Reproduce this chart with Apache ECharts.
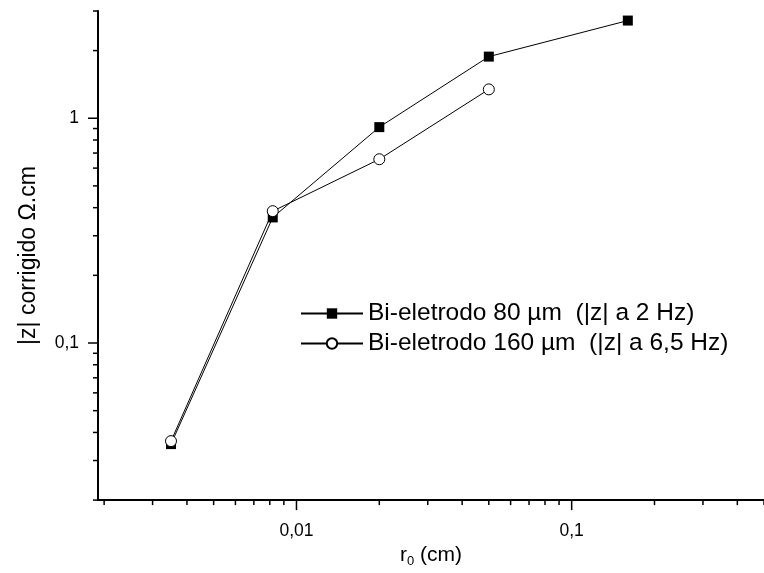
<!DOCTYPE html>
<html>
<head>
<meta charset="utf-8">
<script src="https://cdn.jsdelivr.net/npm/echarts@6/dist/echarts.min.js"></script>
<style>
html,body{margin:0;padding:0;background:#fff;}
#chart{width:764px;height:573px;}
</style>
</head>
<body>
<div id="chart"></div>
<script>
// ---- data ----
const seriesNames = ['Bi-eletrodo 80 \u00b5m  (|z| a 2 Hz)', 'Bi-eletrodo 160 \u00b5m  (|z| a 6,5 Hz)'];
const r0_80 = [0.0035, 0.0082, 0.020, 0.050, 0.160];
const z_80 = [0.0355, 0.362, 0.913, 1.88, 2.72];
const r0_160 = [0.0035, 0.0082, 0.020, 0.050];
const z_160 = [0.0366, 0.386, 0.657, 1.344];
const xMajorTicks = [0.01, 0.1];
const xMinorTicks = [0.002,0.003,0.004,0.005,0.006,0.007,0.008,0.009,
                     0.02,0.03,0.04,0.05,0.06,0.07,0.08,0.09,
                     0.2,0.3,0.4,0.5];
const yMajorTicks = [0.1, 1];
const yMinorTicks = [0.02,0.03,0.04,0.05,0.06,0.07,0.08,0.09,
                     0.2,0.3,0.4,0.5,0.6,0.7,0.8,0.9,2,3];
const X_MIN = 0.0019, X_MAX = 0.5, Y_MIN = 0.02, Y_MAX = 3;

const FONT = "'Liberation Sans', Arial, sans-serif";
const chart = echarts.init(document.getElementById('chart'), null, {renderer: 'canvas'});

function fmt(v) { return String(Number(v.toPrecision(6))).replace('.', ','); }

const xTickData = xMajorTicks.map(v => [v, Y_MIN, 1]).concat(xMinorTicks.map(v => [v, Y_MIN, 0]));
const yTickData = yMajorTicks.map(v => [X_MIN, v, 1]).concat(yMinorTicks.map(v => [X_MIN, v, 0]));

function pairs(xs, ys) { return xs.map((x, i) => [x, ys[i]]); }

const option = {
  backgroundColor: '#fff',
  animation: false,
  textStyle: {fontFamily: FONT, color: '#000'},
  grid: {left: 98, right: -5, top: 11, bottom: 65, containLabel: false},
  xAxis: {
    type: 'log', logBase: 10, min: X_MIN, max: X_MAX,
    axisLine: {show: true, lineStyle: {color: '#000', width: 2}},
    axisTick: {show: false},
    splitLine: {show: false},
    axisLabel: {color: '#000', fontSize: 17.5, fontFamily: FONT, margin: 22,
                showMinLabel: false, showMaxLabel: false, formatter: fmt},
    name: '{a|r}{s|0}{a| (cm)}',
    nameLocation: 'middle', nameGap: 34,
    nameTextStyle: {color: '#000', fontFamily: FONT,
      rich: {a: {fontSize: 21, fontFamily: FONT, color: '#000'},
             s: {fontSize: 13, fontFamily: FONT, color: '#000', padding: [12, 0, 0, 0]}}}
  },
  yAxis: {
    type: 'log', logBase: 10, min: Y_MIN, max: Y_MAX,
    axisLine: {show: true, lineStyle: {color: '#000', width: 2}},
    axisTick: {show: false},
    splitLine: {show: false},
    axisLabel: {color: '#000', fontSize: 17.5, fontFamily: FONT, margin: 19,
                showMinLabel: false, showMaxLabel: false, formatter: fmt},
    name: '|z| corrigido \u03a9.cm',
    nameLocation: 'middle', nameGap: 58, nameRotate: 90,
    nameTextStyle: {color: '#000', fontSize: 23, fontFamily: FONT}
  },
  legend: {
    left: 300, top: 301, orient: 'vertical', padding: 0,
    itemWidth: 62, itemHeight: 13, itemGap: 5,
    textStyle: {fontSize: 24.5, fontFamily: FONT, color: '#000'},
    data: seriesNames
  },
  series: [
    {
      name: seriesNames[0], type: 'line', data: pairs(r0_80, z_80),
      symbol: 'rect', symbolSize: 10,
      lineStyle: {color: '#000', width: 1},
      itemStyle: {color: '#000', borderColor: '#000', borderWidth: 0},
      z: 3
    },
    {
      name: seriesNames[1], type: 'line', data: pairs(r0_160, z_160),
      symbol: 'circle', symbolSize: 11,
      lineStyle: {color: '#000', width: 1},
      itemStyle: {color: '#fff', borderColor: '#000', borderWidth: 1},
      z: 4
    },
    {
      type: 'custom', silent: true, clip: false, z: 5,
      data: xTickData,
      encode: {x: 0, y: 1},
      renderItem: function (params, api) {
        const p = api.coord([api.value(0), api.value(1)]);
        const len = api.value(2) ? 10 : 5;
        return {type: 'line', shape: {x1: p[0], y1: p[1], x2: p[0], y2: p[1] + len},
                style: {stroke: '#000', lineWidth: 1.5}};
      }
    },
    {
      type: 'custom', silent: true, clip: false, z: 5,
      data: yTickData,
      encode: {x: 0, y: 1},
      renderItem: function (params, api) {
        const p = api.coord([api.value(0), api.value(1)]);
        const len = api.value(2) ? 10 : 5;
        return {type: 'line', shape: {x1: p[0], y1: p[1], x2: p[0] - len, y2: p[1]},
                style: {stroke: '#000', lineWidth: 1.5}};
      }
    }
  ]
};
chart.setOption(option);
</script>
</body>
</html>
